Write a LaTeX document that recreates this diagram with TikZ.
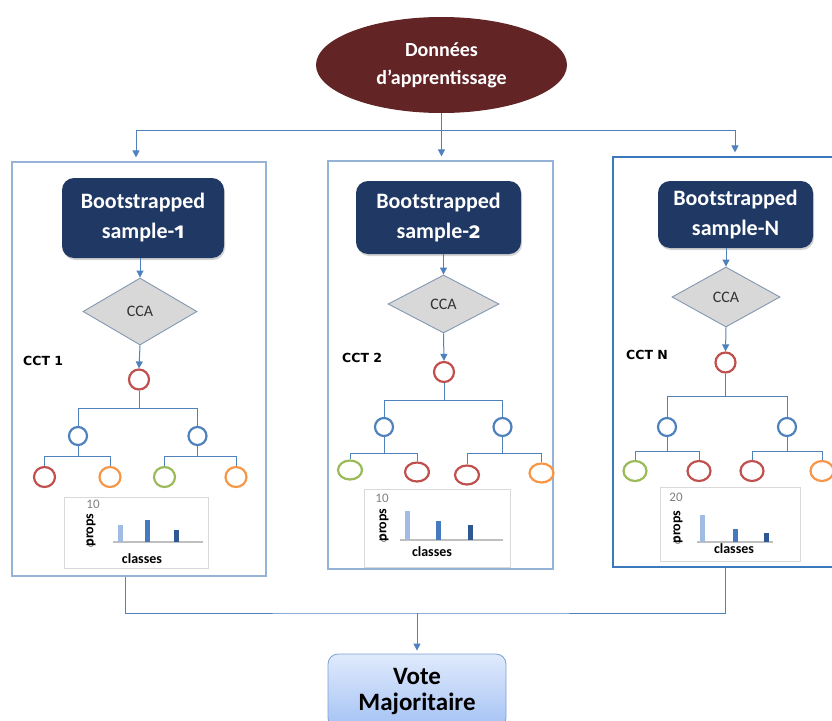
\documentclass[tikz,border=0pt]{standalone}
\usepackage{fontspec}
\setmainfont{Carlito}
\newfontfamily\oldnum[Numbers=OldStyle]{Fira Sans}
\newfontfamily\widefont{DejaVu Sans}
\usepackage{xcolor}
\usetikzlibrary{shapes.geometric, arrows.meta, positioning, shadows}
\definecolor{winered}{RGB}{99,36,38}
\definecolor{navybox}{RGB}{31,56,100}
\definecolor{lineblue}{RGB}{79,129,189}
\definecolor{panelblue}{RGB}{149,179,215}
\definecolor{paneldeep}{RGB}{60,120,190}
\definecolor{diagray}{RGB}{216,216,216}
\definecolor{diaborder}{RGB}{132,151,176}
\definecolor{knotred}{RGB}{192,80,77}
\definecolor{knotblue}{RGB}{79,129,189}
\definecolor{knotgreen}{RGB}{155,187,89}
\definecolor{knotorange}{RGB}{247,150,70}
\definecolor{barlight}{RGB}{160,188,226}
\definecolor{barmid}{RGB}{70,122,190}
\definecolor{bardark}{RGB}{46,88,145}
\definecolor{votetop}{RGB}{224,234,252}
\definecolor{votebot}{RGB}{164,194,244}
\definecolor{voteborder}{RGB}{125,160,212}

\tikzset{
  source/.style={ellipse, fill=winered, text=white, minimum width=251pt,
    minimum height=96pt, align=center, font=\bfseries\fontsize{20}{28}\selectfont},
  bootbox/.style={rounded corners=12pt, fill=navybox, text=white, align=center,
    inner sep=0pt, drop shadow={opacity=0.35, shadow xshift=1pt, shadow yshift=-2pt},
    font=\bfseries\fontsize{22}{30}\selectfont},
  cca/.style={diamond, draw=diaborder, fill=diagray, line width=0.9pt,
    inner sep=0pt, text=black!80, font=\fontsize{16}{18}\selectfont},
  knot/.style={circle, draw=#1, line width=2.2pt, minimum size=18pt, inner sep=0pt},
  leaf/.style={ellipse, draw=#1, line width=2.2pt, minimum width=21pt,
    minimum height=20pt, inner sep=0pt},
  panel/.style={draw=panelblue, line width=1.1pt, inner sep=0pt},
  link/.style={draw=lineblue, line width=1pt},
  flow/.style={link, -{Triangle[length=7pt,width=7pt]}},
  tag/.style={anchor=west, inner sep=0pt, font=\widefont\bfseries\fontsize{12.5}{14}\selectfont},
  chartbox/.style={draw=black!15, line width=0.8pt, inner sep=0pt},
  barline/.style={line width=5pt, dash pattern=on 1.6pt off 0.4pt},
  axisnum/.style={text=black!50, inner sep=0pt, font=\fontsize{13}{15}\selectfont},
  axislabel/.style={inner sep=0pt, font=\bfseries\fontsize{14}{16}\selectfont},
  vote/.style={rounded corners=10pt, draw=voteborder, line width=0.8pt,
    top color=votetop, bottom color=votebot, align=center,
    font=\bfseries\fontsize{25}{26}\selectfont}
}

\begin{document}
\begin{tikzpicture}[x=1pt, y=-1pt]
\useasboundingbox (0,0) rectangle (832,720);

% Training data on top
\node[source] (donnees) at (441.5,65) {Données\\d’apprentissage};

% One panel per bootstrap sample
\node[panel, minimum width=254pt, minimum height=414pt] (panel1) at (139,369) {};
\node[panel, minimum width=225pt, minimum height=408pt] (panel2) at (440.5,365) {};
\node[panel, draw=paneldeep, minimum width=244pt, minimum height=410pt] (panelN) at (735,362) {};

% Split towards the panels
\coordinate (split) at (441.5,130);
\draw[link] (donnees.south) -- (split);
\draw[flow, shorten >=4pt] (split) -| ([xshift=-3pt]panel1.north);
\draw[flow, shorten >=4pt] (split) -- (split |- panel2.north);
\draw[flow, shorten >=4pt] (split) -| (panelN.north);

% Bootstrapped samples
\node[bootbox, minimum width=162pt, minimum height=80pt] (boot1) at (143,218) {Bootstrapped\\sample-{\oldnum 1}};
\node[bootbox, minimum width=165pt, minimum height=73pt] (boot2) at (438.5,217.5) {Bootstrapped\\sample-{\oldnum 2}};
\node[bootbox, minimum width=155pt, minimum height=67pt] (bootN) at (735.5,214.5) {Bootstrapped\\sample-N};

% CCA diamonds
\node[cca, minimum width=114pt, minimum height=67pt] (cca1) at (140,311.5) {CCA};
\node[cca, minimum width=111pt, minimum height=58pt] (cca2) at (443.5,304) {CCA};
\node[cca, minimum width=108pt, minimum height=60pt] (ccaN) at (726,297) {CCA};

\foreach \p in {1,2,N} {
  \draw[flow] (cca\p.north |- boot\p.south) -- (cca\p.north);
}

% Tree labels
\node[tag] (cct1) at (23,361) {CCT 1};
\node[tag] (cct2) at (342,358) {CCT 2};
\node[tag] (cctN) at (626,355) {CCT N};

% Tree 1
\node[knot=knotred, minimum size=20pt] (root1) at (139,379.5) {};
\node[knot=knotblue] (a1) at (78,436) {};
\node[knot=knotblue] (b1) at (197.5,436) {};
\foreach \x/\c [count=\i] in {44.5/knotred, 110/knotorange, 164.5/knotgreen, 236/knotorange}
  \node[leaf=\c] (l1\i) at (\x,477) {};
\draw[flow] (cca1.south) -- (root1.north);
\foreach \n in {a1,b1} \draw[link] (root1.south) -- ++(0,17.5) -| (\n.north);
\foreach \n in {l11,l12} \draw[link] (a1.south) -- ++(0,10) -| (\n.north);
\foreach \n in {l13,l14} \draw[link] (b1.south) -- ++(0,10) -| (\n.north);

% Tree 2
\node[knot=knotred, minimum size=20pt] (root2) at (444,372) {};
\node[knot=knotblue] (a2) at (384,427) {};
\node[knot=knotblue] (b2) at (502.5,427) {};
\foreach \x/\y/\c [count=\i] in {350/470/knotgreen, 417/472/knotred, 467/475/knotred, 541.5/473/knotorange}
  \node[leaf=\c, minimum width=24pt, minimum height=19pt] (l2\i) at (\x,\y) {};
\draw[flow] (cca2.south) -- (root2.north);
\foreach \n in {a2,b2} \draw[link] (root2.south) -- ++(0,17) -| (\n.north);
\foreach \n in {l21,l22} \draw[link] (a2.south) -- ++(0,16) -| (\n.north);
\foreach \n in {l23,l24} \draw[link] (b2.south) -- ++(0,16) -| (\n.north);

% Tree N
\node[knot=knotred, minimum size=20pt] (rootN) at (725.5,362.5) {};
\node[knot=knotblue] (aN) at (667,427) {};
\node[knot=knotblue] (bN) at (787,427) {};
\foreach \x/\c [count=\i] in {635/knotgreen, 699/knotred, 752/knotred, 822/knotorange}
  \node[leaf=\c, minimum width=23pt] (lN\i) at (\x,471) {};
\draw[flow] (ccaN.south) -- (rootN.north);
\foreach \n in {aN,bN} \draw[link] (rootN.south) -- ++(0,22.5) -| (\n.north);
\foreach \n in {lN1,lN2} \draw[link] (aN.south) -- ++(0,14) -| (\n.north);
\foreach \n in {lN3,lN4} \draw[link] (bN.south) -- ++(0,14) -| (\n.north);

% Small bar charts
\node[chartbox, minimum width=144pt, minimum height=71pt] (chart1) at (136,532.5) {};
\draw[black!25, line width=1.8pt] (113,542) -- (203,542);
\draw[barline, barlight] (120,542) -- (120,525);
\draw[barline, barmid] (147,542) -- (147,520);
\draw[barline, bardark] (176,542) -- (176,530);
\node[axisnum] (max1) at (93,504) {10};
\node[axisnum] (zero1) at (91,543) {0};
\node[axislabel, rotate=90] (props1) at (91,530) {props};
\node[axislabel] (classes1) at (142,559) {classes};

\node[chartbox, minimum width=146pt, minimum height=78pt] (chart2) at (437,528) {};
\draw[black!25, line width=1.8pt] (400,540) -- (503,540);
\draw[barline, barlight] (407,540) -- (407,511);
\draw[barline, barmid] (438.5,540) -- (438.5,521);
\draw[barline, bardark] (470,540) -- (470,525);
\node[axisnum] (max2) at (382,498) {10};
\node[axisnum] (zero2) at (384,538) {0};
\node[axislabel, rotate=90] (props2) at (384,525) {props};
\node[axislabel] (classes2) at (432,552) {classes};

\node[chartbox, minimum width=140pt, minimum height=74pt] (chartN) at (730,524) {};
\draw[black!25, line width=1.8pt] (697,542) -- (773,542);
\draw[barline, barlight] (702,542) -- (702,515);
\draw[barline, barmid] (735,542) -- (735,529);
\draw[barline, bardark] (766,542) -- (766,533);
\node[axisnum] (maxN) at (676,497) {20};
\node[axisnum] (zeroN) at (678,540) {0};
\node[axislabel, rotate=90] (propsN) at (678,527) {props};
\node[axislabel] (classesN) at (734,549) {classes};

% Majority vote
\node[vote, minimum width=178pt, minimum height=74pt] (vote) at (417,691) {Vote\\Majoritaire};
\coordinate (merge) at (417,613);
\draw[link] ([xshift=-14pt]panel1.south) |- (merge) -| ([xshift=-10pt]panelN.south);
\draw[flow, shorten >=3pt] (merge) -- (vote.north);

\end{tikzpicture}
\end{document}
